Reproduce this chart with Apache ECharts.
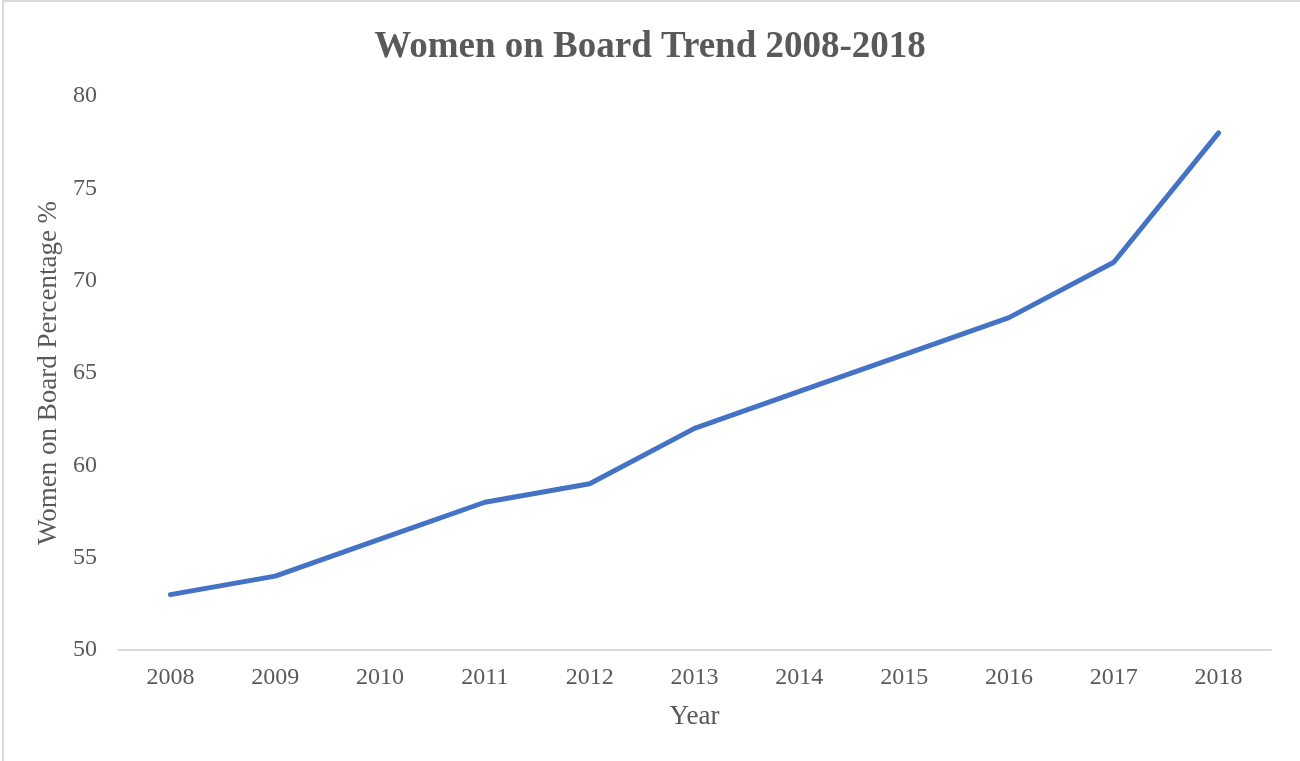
<!DOCTYPE html>
<html>
<head>
<meta charset="utf-8">
<script src="https://cdn.jsdelivr.net/npm/echarts@6/dist/echarts.min.js"></script>
<style>
  html, body { margin: 0; padding: 0; background: #fff; }
  #chart { width: 1300px; height: 761px; }
</style>
</head>
<body>
<div id="chart"></div>
<script>
// data
const years = ['2008', '2009', '2010', '2011', '2012', '2013', '2014', '2015', '2016', '2017', '2018'];
const womenOnBoard = [53, 54, 56, 58, 59, 62, 64, 66, 68, 71, 78];

const font = '"Liberation Serif", "Times New Roman", serif';
const textColor = '#595959';

const chart = echarts.init(document.getElementById('chart'));

chart.setOption({
  animation: false,
  title: {
    text: 'Women on Board Trend 2008-2018',
    left: 'center',
    top: 24,
    textStyle: {
      fontFamily: font,
      fontSize: 37,
      fontWeight: 'bold',
      color: textColor
    }
  },
  graphic: [{
    type: 'rect',
    shape: { x: 3, y: 1, width: 1310, height: 800 },
    style: { fill: 'none', stroke: '#d9d9d9', lineWidth: 2 },
    silent: true
  }],
  grid: {
    left: 118,
    right: 29,
    top: 96,
    bottom: 111
  },
  xAxis: {
    type: 'category',
    data: years,
    boundaryGap: true,
    name: 'Year',
    nameLocation: 'middle',
    nameGap: 53,
    nameTextStyle: { fontFamily: font, fontSize: 27, color: textColor },
    axisLine: { lineStyle: { color: '#d9d9d9', width: 2 } },
    axisTick: { show: false },
    axisLabel: { fontFamily: font, fontSize: 24, color: textColor, margin: 16 }
  },
  yAxis: {
    type: 'value',
    min: 50,
    max: 80,
    interval: 5,
    name: 'Women on Board Percentage %',
    nameLocation: 'middle',
    nameGap: 54,
    nameTextStyle: { fontFamily: font, fontSize: 27, color: textColor },
    axisLine: { show: false },
    axisTick: { show: false },
    splitLine: { show: false },
    axisLabel: { fontFamily: font, fontSize: 24, color: textColor, margin: 21 }
  },
  series: [{
    type: 'line',
    data: womenOnBoard,
    showSymbol: false,
    lineStyle: { color: '#4472C4', width: 5, cap: 'round', join: 'round' },
    itemStyle: { color: '#4472C4' }
  }]
});
</script>
</body>
</html>
